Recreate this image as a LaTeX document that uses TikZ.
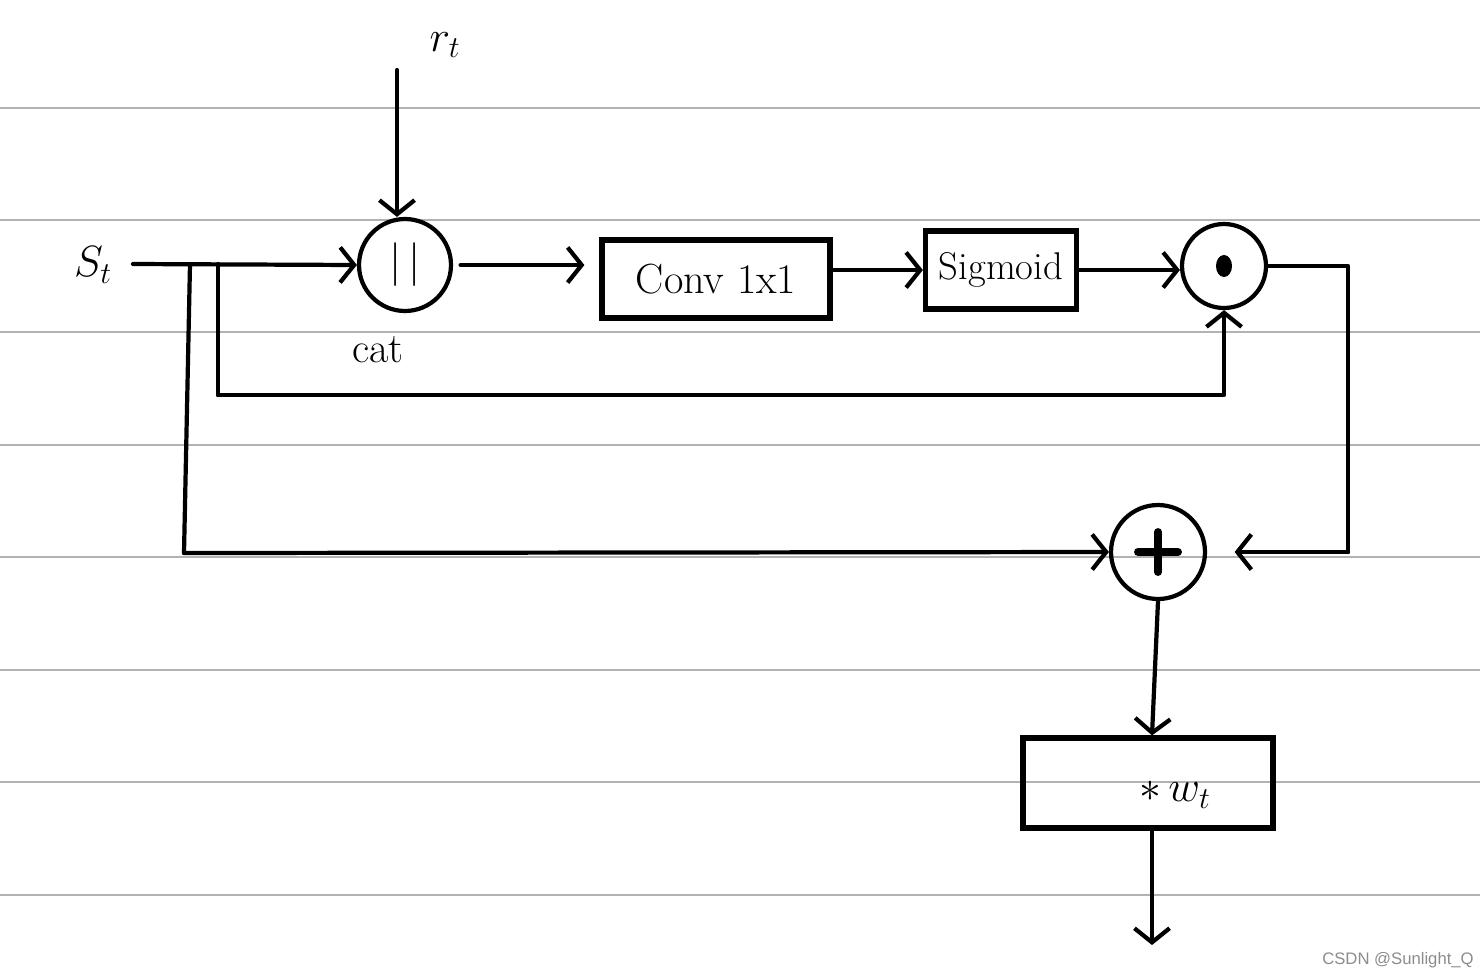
\documentclass[tikz,border=0pt]{standalone}
\usepackage{fontspec}
\newfontfamily\markfont{Liberation Sans}
\usetikzlibrary{arrows.meta,positioning,calc}
\begin{document}
\begin{tikzpicture}[x=0.02cm,y=-0.02cm,
    wire/.style={line width=2.4pt, line cap=round, line join=round},
    flow/.style={wire, -{Straight Barb[length=8pt,width=20pt,line width=2.4pt]}},
    opnode/.style={circle, draw, line width=2.4pt, inner sep=0pt},
    blk/.style={draw, line width=3pt, inner sep=0pt, minimum height=1.56cm},
    lbl/.style={font=\fontsize{26}{30}\selectfont}]
  \useasboundingbox (0,0) rectangle (1480,978);
  % ruled paper
  \foreach \y in {108,220,332,445,557,670,782,895}
    \draw[black!30, line width=0.7pt] (0,\y) -- (1480,\y);

  \node[lbl] (st) at (93,265) {$S_t$};
  \node[lbl] (rt) at (445,45) {$r_t$};

  \node[opnode, minimum size=1.84cm, font=\fontsize{36}{40}\selectfont] (cat) at (405,265) {$|\,|$};
  \node[lbl, font=\fontsize{24}{28}\selectfont] (catlbl) at (378,350) {cat};

  \node[blk, minimum width=4.56cm, font=\fontsize{24}{28}\selectfont] (conv) at (716,279) {Conv 1x1};
  \node[blk, minimum width=3.02cm, font=\fontsize{22}{26}\selectfont] (sig) at (1001,270) {Sigmoid};

  \node[opnode, minimum size=1.68cm] (dot) at (1224,266) {};
  \fill (dot.center) ellipse (8 and 11);

  \node[opnode, minimum size=1.88cm] (plus) at (1158,552) {};
  \draw[line width=4.5pt, line cap=round] ($(plus.center)+(-20,0)$) -- ($(plus.center)+(20,0)$)
    ($(plus.center)+(0,-20)$) -- ($(plus.center)+(0,20)$);

  \node[blk, minimum width=5cm, minimum height=1.8cm] (wbox) at (1148,783) {};
  \node[lbl] (wlbl) at (1175,795) {$*\,w_t$};

  \coordinate (stout) at (133,264);
  \coordinate (rtop) at (397,70);
  \coordinate (b1) at (218,264);
  \coordinate (b1low) at (218,395);
  \coordinate (b2) at (190,264);
  \coordinate (b2low) at (184,553);
  \coordinate (dr) at (1348,266);
  \coordinate (dr2) at (1348,552);
  \coordinate (outend) at (1152,945);

  \draw[flow] (stout) -- (cat.west);
  \draw[flow] (rtop) -- (rtop |- cat.north);
  \draw[flow, shorten <=0.15cm, shorten >=0.3cm] (cat.east) -- (cat.east -| conv.west);
  \draw[flow] (sig.west -| conv.east) -- (sig.west);
  \draw[flow] (sig.east) -- (sig.east -| dot.west);
  \draw[wire] (b1) -- (b1low);
  \draw[flow] (b1low) -- (b1low -| dot.south) -- (dot.south);
  \draw[wire] (b2) -- (b2low);
  \draw[flow] (b2low) -- (plus.west);
  \draw[wire] (dot.east) -- (dr) -- (dr2);
  \draw[flow, shorten >=0.55cm] (dr2) -- (plus.east);
  \draw[flow] (plus.south) -- ($(wbox.north)+(4,0)$);
  \draw[flow] ($(wbox.south)+(4,0)$) -- (outend);

  \node[black!45, font=\markfont\fontsize{9.5}{11}\selectfont] (mark) at (1398,960) {CSDN @Sunlight\_Q};
\end{tikzpicture}
\end{document}
